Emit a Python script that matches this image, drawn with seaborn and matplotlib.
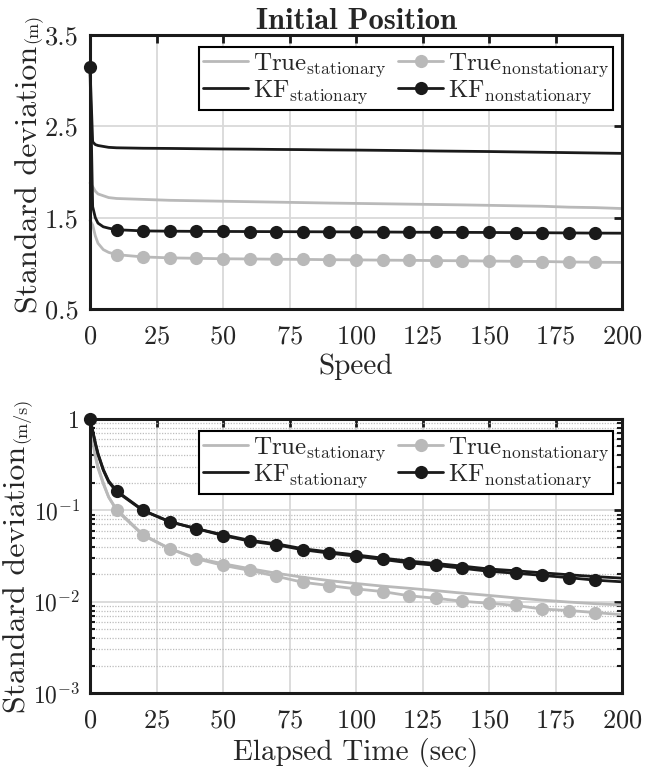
import numpy as np
import matplotlib
matplotlib.use("Agg")
import matplotlib.pyplot as plt
import seaborn as sns

# sample times (sec); markers sit at 0, 10, ..., 190
t = [0, 1, 2, 3, 5, 7, 10, 20, 30, 40, 50, 60, 70, 80, 90, 100,
     110, 120, 130, 140, 150, 160, 170, 180, 190, 200]

# initial position std (m)
pos_true_stat = [1.88, 1.84, 1.79, 1.76, 1.74, 1.72, 1.71, 1.70, 1.69, 1.685, 1.68, 1.675, 1.67,
                 1.665, 1.66, 1.656, 1.652, 1.648, 1.644, 1.64, 1.635, 1.63, 1.625, 1.615, 1.61, 1.60]
pos_true_nonstat = [1.47, 1.42, 1.30, 1.22, 1.15, 1.12, 1.095, 1.07, 1.06, 1.055, 1.05, 1.048, 1.045,
                    1.043, 1.04, 1.038, 1.035, 1.033, 1.03, 1.028, 1.025, 1.022, 1.02, 1.015, 1.012, 1.01]
pos_kf_stat = [3.15, 2.33, 2.30, 2.29, 2.28, 2.27, 2.265, 2.26, 2.258, 2.255, 2.252, 2.25, 2.247,
               2.245, 2.242, 2.24, 2.237, 2.234, 2.23, 2.227, 2.224, 2.22, 2.216, 2.212, 2.208, 2.204]
pos_kf_nonstat = [3.15, 1.62, 1.50, 1.44, 1.40, 1.385, 1.368, 1.355, 1.352, 1.35, 1.349, 1.348, 1.347,
                  1.346, 1.345, 1.344, 1.343, 1.341, 1.34, 1.339, 1.338, 1.336, 1.335, 1.333, 1.331, 1.33]

# speed std (m/s)
vel_true_stat = [1.0, 0.58, 0.39, 0.29, 0.195, 0.14, 0.1, 0.053, 0.038, 0.030, 0.026, 0.023, 0.0205,
                 0.0185, 0.017, 0.0158, 0.0148, 0.014, 0.0132, 0.0124, 0.0117, 0.011, 0.0104, 0.0099, 0.0095, 0.0092]
vel_true_nonstat = [1.0, 0.6, 0.4, 0.3, 0.2, 0.14, 0.102, 0.054, 0.038, 0.0295, 0.025, 0.022, 0.019,
                    0.0163, 0.015, 0.0138, 0.0129, 0.0116, 0.0109, 0.0101, 0.0096, 0.0091, 0.0083, 0.008, 0.0076, 0.0072]
vel_kf_stat = [1.0, 0.74, 0.54, 0.41, 0.275, 0.205, 0.16, 0.099, 0.075, 0.063, 0.054, 0.047, 0.043,
               0.038, 0.035, 0.0325, 0.030, 0.0278, 0.0262, 0.0245, 0.0228, 0.0218, 0.0207, 0.0197, 0.0188, 0.0181]
vel_kf_nonstat = [1.0, 0.75, 0.55, 0.42, 0.28, 0.21, 0.163, 0.1, 0.075, 0.063, 0.053, 0.046, 0.042,
                  0.037, 0.034, 0.0315, 0.029, 0.0266, 0.025, 0.0232, 0.0215, 0.0205, 0.0194, 0.0183, 0.0172, 0.0165]

labels = [r"True$_{\rm stationary}$", r"True$_{\rm nonstationary}$",
          r"KF$_{\rm stationary}$", r"KF$_{\rm nonstationary}$"]
x_ticks = [0, 25, 50, 75, 100, 125, 150, 175, 200]

sns.set_theme(style="white")
plt.rcParams["font.family"] = ["cmr10", "DejaVu Serif"]
plt.rcParams["mathtext.fontset"] = "cm"
plt.rcParams["axes.formatter.use_mathtext"] = True
plt.rcParams["axes.unicode_minus"] = False

GRAY = "#b9b9b9"
BLACK = "#1a1a1a"
W, H = 665, 768

fig = plt.figure(figsize=(W / 100, H / 100), dpi=100)
ax1 = fig.add_axes([90 / W, 1 - 309 / H, 532 / W, 274 / H])
ax2 = fig.add_axes([90 / W, 1 - 693 / H, 532 / W, 274 / H])

gray_marks = list(range(6, 25))
black_marks = [0] + list(range(6, 25))


def draw_panel(ax, ts, ns, ks, kn):
    h = []
    h.append(sns.lineplot(x=t, y=ts, ax=ax, color=GRAY, lw=2.0).lines[-1])
    h.append(sns.lineplot(x=t, y=ns, ax=ax, color=GRAY, lw=2.0, marker="o", markersize=9.5,
                          markeredgewidth=0, markevery=gray_marks).lines[-1])
    h.append(sns.lineplot(x=t, y=ks, ax=ax, color=BLACK, lw=2.0).lines[-1])
    h.append(sns.lineplot(x=t, y=kn, ax=ax, color=BLACK, lw=2.0, marker="o", markersize=9.5,
                          markeredgewidth=0, markevery=black_marks).lines[-1])
    for ln in h:
        ln.set_clip_on(False)
    # ncol=2 fills by column, so reorder to get rows True / KF
    order = [0, 2, 1, 3]
    leg = ax.legend([h[i] for i in order], [labels[i] for i in order], ncol=2,
                    loc="upper right", bbox_to_anchor=(1 - 9 / 532, 1 - 12 / 274),
                    borderaxespad=0, fontsize=18, handlelength=1.8, handletextpad=0.2,
                    columnspacing=0.5, labelspacing=0.0, borderpad=0.15,
                    fancybox=False, framealpha=1, edgecolor="black")
    leg.get_frame().set_linewidth(1.5)
    ax.set_xlim(0, 200)
    ax.set_xticks(x_ticks)
    ax.tick_params(axis="both", which="major", direction="in", length=6, width=2,
                   top=True, right=True, labelsize=19, pad=8, color=BLACK)
    ax.tick_params(axis="x", pad=11)
    for sp in ax.spines.values():
        sp.set_linewidth(2.2)
        sp.set_color(BLACK)
        sp.set_zorder(5)
    ax.set_axisbelow(True)


draw_panel(ax1, pos_true_stat, pos_true_nonstat, pos_kf_stat, pos_kf_nonstat)
ax1.set_ylim(0.5, 3.5)
ax1.set_yticks([0.5, 1.5, 2.5, 3.5])
ax1.set_yticklabels(["0.5", "1.5", "2.5", "3.5"])
ax1.grid(True, which="major", color="#d9d9d9", lw=1.3)
ax1.set_xlabel("Speed", fontsize=21, labelpad=4)
ax1.set_title("Initial Position", fontfamily="cmb10", fontsize=22, pad=4)

draw_panel(ax2, vel_true_stat, vel_true_nonstat, vel_kf_stat, vel_kf_nonstat)
ax2.set_yscale("log")
ax2.set_ylim(1e-3, 1)
ax2.set_yticks([1e-3, 1e-2, 1e-1, 1])
ax2.set_yticklabels([r"$10^{-3}$", r"$10^{-2}$", r"$10^{-1}$", "1"])
ax2.tick_params(axis="y", which="major", labelsize=17, pad=7)
ax2.tick_params(axis="y", which="minor", direction="in", length=3.5, width=1.5,
                left=True, right=True, color=BLACK)
ax2.grid(True, which="major", color="#d9d9d9", lw=1.3)
ax2.grid(True, which="minor", axis="y", color="#bdbdbd", lw=0.9, ls=(0, (1, 1.2)))
ax2.set_xlabel("Elapsed Time (sec)", fontsize=21, labelpad=4)

# y labels: main text plus a smaller unit
fig.canvas.draw()
for ax, unit, y_bottom, x_base in [(ax1, "(m)", 313, 37), (ax2, "(m/s)", 713, 25)]:
    lab = fig.text(x_base / W, 1 - y_bottom / H, "Standard deviation", rotation=90,
                   rotation_mode="anchor", ha="left", va="baseline", fontsize=23)
    fig.canvas.draw()
    bb = lab.get_window_extent()
    fig.text(x_base / W, (bb.y1 + 3) / H, unit, rotation=90, rotation_mode="anchor",
             ha="left", va="baseline", fontsize=13)

fig.savefig("out.png", dpi=100)
